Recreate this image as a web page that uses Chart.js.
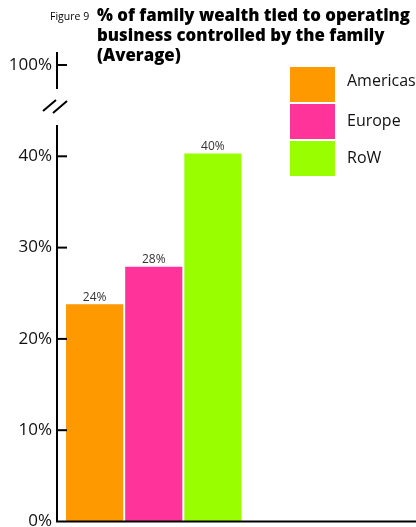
<!DOCTYPE html>
<html>
<head>
<meta charset="utf-8">
<script src="https://cdn.jsdelivr.net/npm/chart.js@4"></script>
<style>
html,body{margin:0;padding:0;background:#fff;}
canvas{display:block;}
</style>
</head>
<body>
<canvas id="c" width="416" height="527"></canvas>
<script>
const categories = ['Average'];
const seriesNames = ['Americas', 'Europe', 'RoW'];
const americas = [23.8];
const europe = [27.9];
const row = [40.3];
const seriesColors = ['#FF9900', '#FF3399', '#99FF00'];
const tickLabels = {0: '0%', 10: '10%', 20: '20%', 30: '30%', 40: '40%', 50: '100%'};
const figureLabel = 'Figure 9';
const titleLines = ['% of family wealth tied to operating', 'business controlled by the family', '(Average)'];

const FONT = '"Open Sans", sans-serif';

const customDraw = {
  id: 'customDraw',
  afterDraw(chart) {
    const ctx = chart.ctx;
    const y = chart.scales.y;
    const area = chart.chartArea;
    const ax = area.left;
    ctx.save();
    // title
    ctx.fillStyle = '#000';
    ctx.textBaseline = 'alphabetic';
    ctx.textAlign = 'left';
    ctx.font = '10.5px ' + FONT;
    ctx.fillText(figureLabel, 50, 20);
    ctx.font = '800 16.8px ' + FONT;
    titleLines.forEach((t, i) => ctx.fillText(t, 97, 20.5 + i * 20));

    // axes
    ctx.strokeStyle = '#000';
    ctx.lineWidth = 2;
    ctx.lineCap = 'butt';
    const bottom = y.getPixelForValue(0);
    ctx.beginPath();
    ctx.moveTo(ax, 52); ctx.lineTo(ax, 89);
    ctx.moveTo(ax, 125); ctx.lineTo(ax, bottom + 1);
    ctx.moveTo(ax - 1, bottom); ctx.lineTo(chart.width, bottom);
    ctx.stroke();
    // break marks
    ctx.beginPath();
    ctx.moveTo(43, 111); ctx.lineTo(56, 100);
    ctx.moveTo(53, 113); ctx.lineTo(67, 101);
    ctx.stroke();
    // ticks inside
    y.ticks.forEach(t => {
      if (t.value === 0) return;
      const py = y.getPixelForValue(t.value);
      ctx.beginPath();
      ctx.moveTo(ax, py); ctx.lineTo(ax + 10, py);
      ctx.stroke();
    });

    // bar value labels
    ctx.fillStyle = '#333';
    ctx.font = '12px ' + FONT;
    ctx.textAlign = 'center';
    ctx.textBaseline = 'bottom';
    chart.data.datasets.forEach((ds, i) => {
      const meta = chart.getDatasetMeta(i);
      meta.data.forEach((bar, j) => {
        ctx.fillText(Math.round(ds.data[j]) + '%', bar.x, bar.y - 1);
      });
    });

    // legend
    const lx = 290, ly = 67, bw = 45, bh = 35, gap = 2;
    ctx.textAlign = 'left';
    ctx.textBaseline = 'middle';
    ctx.font = '16px ' + FONT;
    chart.data.datasets.forEach((ds, i) => {
      const top = ly + i * (bh + gap);
      ctx.fillStyle = ds.backgroundColor;
      ctx.fillRect(lx, top, bw, bh);
      ctx.fillStyle = '#111';
      ctx.fillText(ds.label, 347, top + bh / 2 - (i === 0 ? 3 : 0));
    });
    ctx.restore();
  }
};

new Chart(document.getElementById('c'), {
  type: 'bar',
  data: {
    labels: categories,
    datasets: [
      {label: seriesNames[0], data: americas, backgroundColor: seriesColors[0]},
      {label: seriesNames[1], data: europe, backgroundColor: seriesColors[1]},
      {label: seriesNames[2], data: row, backgroundColor: seriesColors[2]}
    ]
  },
  options: {
    responsive: false,
    animation: false,
    devicePixelRatio: 1,
    layout: {padding: {left: 0, right: 165.5, top: 65, bottom: 5.5}},
    datasets: {bar: {categoryPercentage: 0.917, barPercentage: 0.966}},
    plugins: {legend: {display: false}, tooltip: {enabled: false}, title: {display: false}},
    scales: {
      x: {display: false},
      y: {
        min: 0, max: 50,
        afterFit(scale) { scale.width = 57; scale.paddingTop = 0; scale.paddingBottom = 0; },
        grid: {display: false, drawTicks: false},
        border: {display: false},
        ticks: {
          stepSize: 10,
          padding: 5,
          color: '#111',
          font: {family: FONT, size: 17},
          callback: v => tickLabels[v]
        }
      }
    }
  },
  plugins: [customDraw]
});
</script>
</body>
</html>
